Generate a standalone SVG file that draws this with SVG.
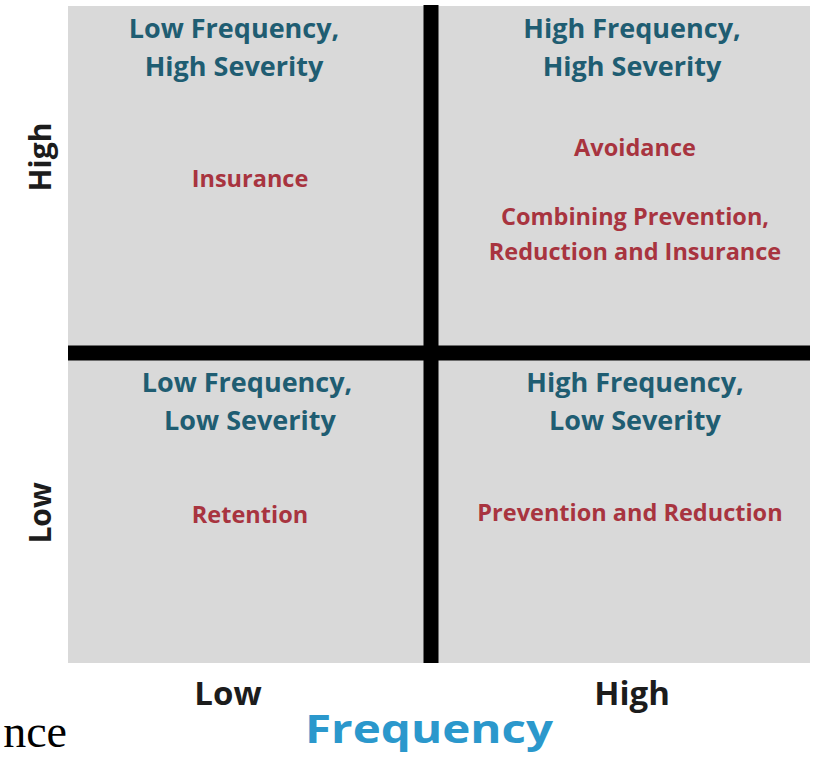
<svg xmlns="http://www.w3.org/2000/svg" width="814" height="763" viewBox="0 0 814 763">
  <style>
    .panel { fill: #d9d9d9; }
    .title { font-family: "Open Sans", "Noto Sans", sans-serif; font-weight: 700; font-size: 27px; fill: #1f5d72; text-anchor: middle; }
    .action { font-family: "Open Sans", "Noto Sans", sans-serif; font-weight: 700; font-size: 23.5px; fill: #a8343f; text-anchor: middle; }
    .axis { font-family: "Open Sans", "Noto Sans", sans-serif; font-weight: 700; font-size: 33px; fill: #1c1c1c; text-anchor: middle; }
    .axis-side { font-family: "Open Sans", "Noto Sans", sans-serif; font-weight: 700; font-size: 30px; fill: #1c1c1c; text-anchor: middle; }
    .axis-title { font-family: "Open Sans", "Noto Sans", sans-serif; font-weight: 700; font-size: 40px; fill: #2b98cc; text-anchor: middle; }
    .divider { stroke: #000; stroke-width: 15; fill: none; }
    .serif { font-family: "Liberation Serif", "Times New Roman", serif; font-size: 46px; fill: #000; text-anchor: end; }
  </style>

  <rect width="814" height="763" fill="#ffffff"/>
  <rect class="panel" x="68" y="6" width="742" height="657"/>

  <!-- Quadrant: low frequency, high severity -->
  <g id="q-low-freq-high-sev">
    <text class="title" x="234" y="38">Low Frequency,</text>
    <text class="title" x="234" y="76">High Severity</text>
    <text class="action" x="250" y="187">Insurance</text>
  </g>

  <!-- Quadrant: high frequency, high severity -->
  <g id="q-high-freq-high-sev">
    <text class="title" x="632" y="38">High Frequency,</text>
    <text class="title" x="632" y="76">High Severity</text>
    <text class="action" x="635" y="156">Avoidance</text>
    <text class="action" x="635" y="225">Combining Prevention,</text>
    <text class="action" x="635" y="260">Reduction and Insurance</text>
  </g>

  <!-- Quadrant: low frequency, low severity -->
  <g id="q-low-freq-low-sev">
    <text class="title" x="247" y="392">Low Frequency,</text>
    <text class="title" x="250" y="430">Low Severity</text>
    <text class="action" x="250" y="523">Retention</text>
  </g>

  <!-- Quadrant: high frequency, low severity -->
  <g id="q-high-freq-low-sev">
    <text class="title" x="635" y="392">High Frequency,</text>
    <text class="title" x="635" y="430">Low Severity</text>
    <text class="action" x="630" y="521">Prevention and Reduction</text>
  </g>

  <!-- Axis dividers -->
  <g id="connectors">
    <line class="divider" x1="431" y1="5" x2="431" y2="663"/>
    <line class="divider" x1="68" y1="353" x2="810" y2="353"/>
  </g>

  <!-- Severity axis labels -->
  <g id="severity-axis">
    <text class="axis-side" transform="translate(51 157) rotate(-90)">High</text>
    <text class="axis-side" transform="translate(51 513) rotate(-90)">Low</text>
  </g>

  <!-- Frequency axis labels -->
  <g id="frequency-axis">
    <text class="axis" x="228" y="705">Low</text>
    <text class="axis" x="632" y="705">High</text>
    <text class="axis-title" x="429" y="743" textLength="248" lengthAdjust="spacingAndGlyphs">Frequency</text>
  </g>

  <text class="serif" x="67" y="747">nce</text>
</svg>
